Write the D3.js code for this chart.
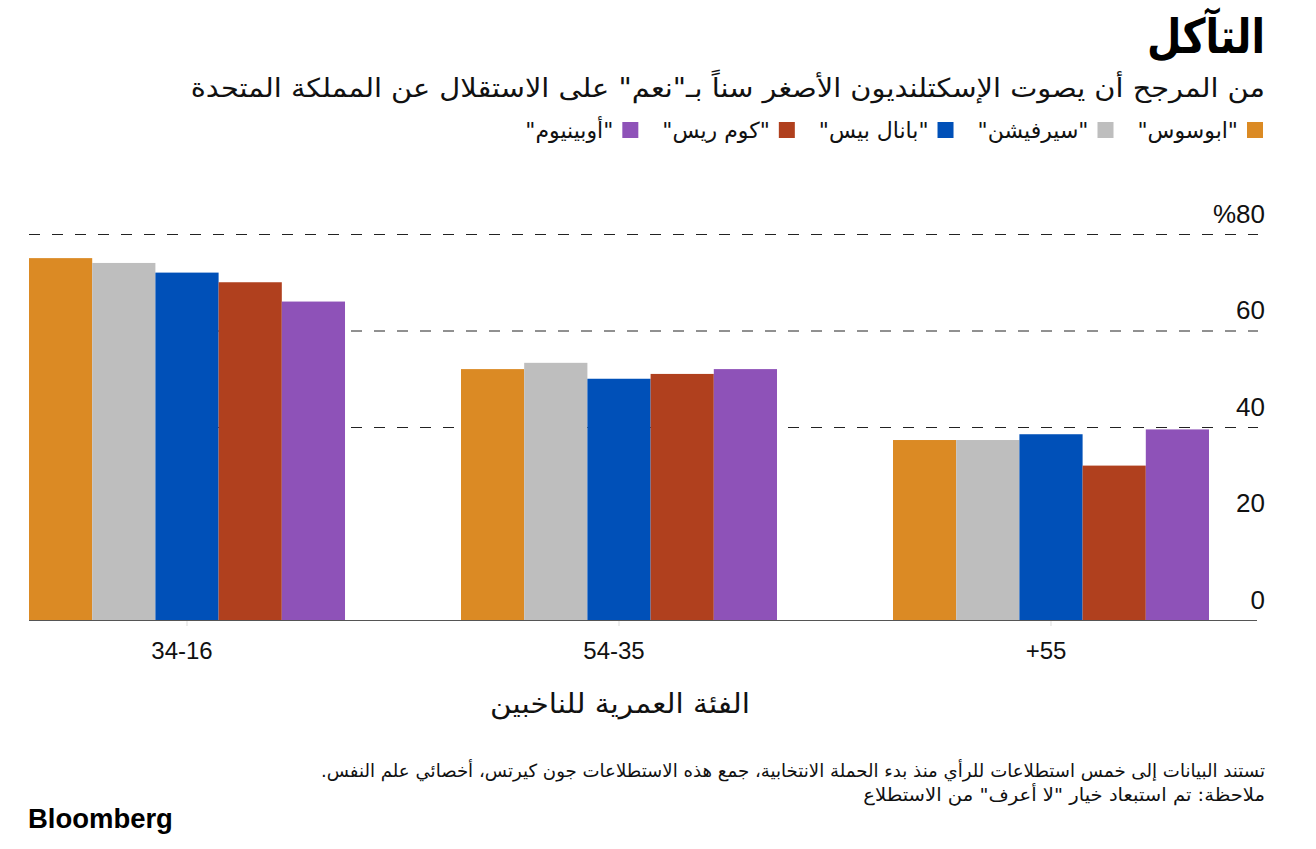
<!DOCTYPE html>
<html><head><meta charset="utf-8">
<script src="https://cdn.jsdelivr.net/npm/d3@7"></script>
<style>body{margin:0;background:#fff} svg{display:block;background:#fff}</style>
</head><body><svg id="c" width="1316" height="849"></svg>
<script>
// ---- data ----
const categories = ["34-16", "54-35", "+55"];
const seriesNames = ['"ابوسوس"', '"سيرفيشن"', '"بانال بيس"', '"كوم ريس"', '"أوبينيوم"'];
const ipsos     = [75, 52, 37.3];
const survation = [74, 53.3, 37.3];
const panelbase = [72, 50, 38.5];
const comres    = [70, 51, 32];
const opinium   = [66, 52, 39.5];
const yTicks = [0, 20, 40, 60, 80];
const gridTicks = [40, 60, 80];
const colors = ["#DB8A24", "#BEBEBE", "#0050B8", "#B0401E", "#8E52B8"];

const title = "التآكل";
const subtitle = 'من المرجح أن يصوت الإسكتلنديون الأصغر سناً بـ"نعم" على الاستقلال عن المملكة المتحدة';
const xTitle = "الفئة العمرية للناخبين";
const note1 = "تستند البيانات إلى خمس استطلاعات للرأي منذ بدء الحملة الانتخابية، جمع هذه الاستطلاعات جون كيرتس، أخصائي علم النفس.";
const note2 = 'ملاحظة: تم استبعاد خيار "لا أعرف" من الاستطلاع';

const series = [ipsos, survation, panelbase, comres, opinium];

const svg = d3.select("#c");
const arFont = "'DejaVu Sans', 'Noto Sans', sans-serif";
const numFont = "'Liberation Sans', Arial, sans-serif";

function placeText(str, opts) {
  const t = svg.append("text").attr("x", 0).attr("y", 0)
    .attr("direction", opts.rtl ? "rtl" : "ltr")
    .style("font-family", opts.font || arFont)
    .style("font-size", opts.size + "px")
    .style("font-weight", opts.weight || 400)
    .attr("fill", opts.fill || "#000")
    .text(str);
  const bb = t.node().getBBox();
  const sx = opts.width ? opts.width / bb.width : 1;
  let tx;
  if (opts.right !== undefined) tx = opts.right - (bb.x + bb.width) * sx;
  else if (opts.center !== undefined) tx = opts.center - (bb.x + bb.width / 2) * sx;
  else tx = opts.left - bb.x * sx;
  t.attr("transform", `translate(${tx},${opts.y}) scale(${sx},1)`);
  return {node: t, left: tx + bb.x * sx, right: tx + (bb.x + bb.width) * sx};
}

// ---- scales ----
const x0 = d3.scaleBand().domain(categories).range([29, 1209]).paddingInner(0.2685).paddingOuter(0);
const x1 = d3.scaleBand().domain(d3.range(series.length)).range([0, x0.bandwidth()]).padding(0);
const y = d3.scaleLinear().domain([0, 80]).range([620, 234]);

// gridlines
svg.append("g").selectAll("line").data(gridTicks).join("line")
  .attr("x1", 29).attr("x2", 1258)
  .attr("y1", d => y(d) + 0.5).attr("y2", d => y(d) + 0.5)
  .attr("stroke", "#222").attr("stroke-width", 1).attr("stroke-dasharray", "11,12");

// bars
const groups = svg.append("g").selectAll("g").data(categories).join("g")
  .attr("transform", d => `translate(${x0(d)},0)`);
groups.selectAll("rect")
  .data((c, ci) => series.map((s, si) => ({si, v: s[ci]})))
  .join("rect")
  .attr("x", d => x1(d.si)).attr("width", x1.bandwidth())
  .attr("y", d => y(d.v)).attr("height", d => y(0) - y(d.v))
  .attr("fill", d => colors[d.si]);

// baseline axis
const xAxis = svg.append("g").attr("transform", `translate(0,${y(0)})`)
  .call(d3.axisBottom(x0).tickSize(6).tickPadding(16).tickSizeOuter(0));
xAxis.select(".domain").remove();
xAxis.selectAll(".tick line").attr("stroke", "#ddd");
xAxis.selectAll(".tick text").attr("dx", -5).style("font-family", numFont).style("font-size", "24px").attr("fill", "#111");
svg.append("line").attr("x1", 29).attr("x2", 1257).attr("y1", y(0) + 0.5).attr("y2", y(0) + 0.5)
  .attr("stroke", "#555").attr("stroke-width", 1.2);

// y axis labels (right side, above gridlines)
const yAxis = svg.append("g").attr("transform", "translate(1265,0)")
  .call(d3.axisLeft(y).tickValues(yTicks).tickSize(0).tickPadding(0)
    .tickFormat(d => d === 80 ? "%" + d : d));
yAxis.select(".domain").remove();
yAxis.selectAll(".tick text").attr("dy", -12).attr("text-anchor", "end")
  .style("font-family", numFont).style("font-size", "26px").attr("fill", "#111");

// titles
placeText(title, {rtl: true, right: 1265, y: 53, size: 48, weight: 700, width: 118});
placeText(subtitle, {rtl: true, right: 1265, y: 97, size: 26, width: 1075, fill: "#111"});

// legend
let cursor = 1263;
seriesNames.forEach((name, i) => {
  svg.append("rect").attr("x", cursor - 16).attr("y", 122).attr("width", 16).attr("height", 16).attr("fill", colors[i]);
  const t = placeText(name, {rtl: true, right: cursor - 25, y: 138, size: 22, fill: "#111"});
  cursor = t.left - 24;
});

// x-axis title
placeText(xTitle, {rtl: true, center: 620, y: 713, size: 27, width: 260, fill: "#111"});

// notes
placeText(note1, {rtl: true, right: 1265, y: 777, size: 18, width: 945, fill: "#111"});
placeText(note2, {rtl: true, right: 1265, y: 801, size: 18, width: 402, fill: "#111"});

// logo
placeText("Bloomberg", {left: 28, y: 828, size: 27, weight: 700, font: numFont, width: 145});
</script></body></html>
